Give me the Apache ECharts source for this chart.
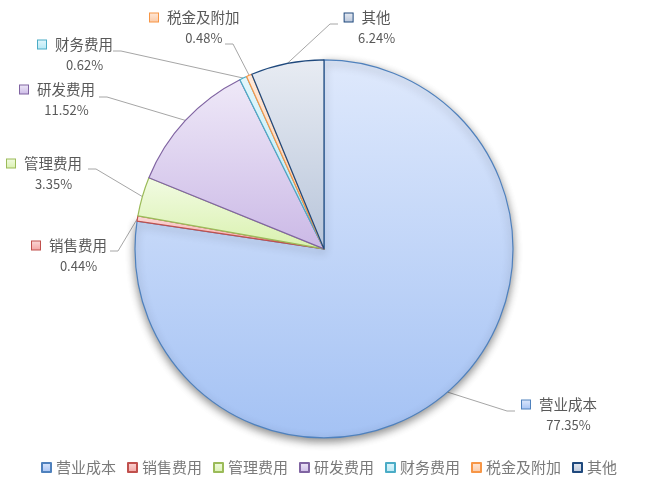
<!DOCTYPE html>
<html>
<head>
<meta charset="utf-8">
<script src="https://cdn.jsdelivr.net/npm/echarts@6/dist/echarts.min.js"></script>
<style>
html,body{margin:0;padding:0;background:#fff;}
#main{width:658px;height:490px;}
</style>
</head>
<body>
<div id="main"></div>
<script>
//成本费用构成
var categories = ['营业成本', '销售费用', '管理费用', '研发费用', '财务费用', '税金及附加', '其他'];
var shares = [77.35, 0.44, 3.35, 11.52, 0.62, 0.48, 6.24];

//颜色
var lineColors = ['#4f81bd', '#c0504d', '#9bbb59', '#8064a2', '#4bacc6', '#f79646', '#1f497d'];
var topColors = ['#dfe9fc', '#fbd9d8', '#f2fbe3', '#efe9f8', '#e3f7fc', '#fee9da', '#e8ecf3'];
var bottomColors = ['#a4c2f4', '#f3a3a1', '#d9f1ae', '#cbb9e6', '#b5e8f5', '#fcc9a4', '#b8c5da'];

//标签位置 [x, y, 引线终点x, 引线终点y]
var labelPos = [
  [522, 394, 515, 411],
  [32, 235, 110, 251],
  [7, 153, 88, 169],
  [20, 79, 99, 97],
  [38, 34, 113, 51],
  [150, 7, 225, 44],
  [340, 7, 338, 24]
];

var fontName = '"Noto Sans CJK SC", "Microsoft YaHei", sans-serif';

function grad(i){
  return new echarts.graphic.LinearGradient(0, 0, 0, 1, [
    {offset: 0, color: topColors[i]},
    {offset: 1, color: bottomColors[i]}
  ]);
}

var pieData = [];
for (var i = 0; i < categories.length; i++) {
  var st = {
    color: grad(i),
    borderColor: lineColors[i],
    borderWidth: 1.2
  };
  //最大的一块带阴影（饼图底部）
  if (i === 0) {
    st.shadowBlur = 8;
    st.shadowOffsetY = 3;
    st.shadowColor = 'rgba(0,0,0,0.45)';
  }
  pieData.push({
    name: categories[i],
    value: shares[i],
    itemStyle: st,
    label: {
      rich: {
        m: {width: 8, height: 8, backgroundColor: grad(i), borderColor: lineColors[i], borderWidth: 1, align: 'center'},
        g: {width: 9, align: 'center'},
        n: {fontSize: 14.5, color: '#595959', fontFamily: fontName, lineHeight: 21, align: 'center'},
        s: {width: 18, align: 'center'},
        p: {fontSize: 13, color: '#595959', fontFamily: fontName, lineHeight: 21, align: 'center'}
      }
    }
  });
}

var chart = echarts.init(document.getElementById('main'));
var option = {
  backgroundColor: '#ffffff',
  animation: false,
  legend: {
    data: categories,
    left: 'center',
    top: 455,
    itemWidth: 9,
    itemHeight: 9,
    itemGap: 11,
    icon: 'rect',
    textStyle: {fontSize: 15, color: '#7a7a7a', fontFamily: fontName}
  },
  series: [
    {
      name: '成本费用构成',
      type: 'pie',
      center: ['49.24%', '50.8%'],
      radius: 189,
      startAngle: 90,
      clockwise: true,
      data: pieData,
      label: {
        show: true,
        position: 'outside',
        formatter: function (p) {
          return '{m|}{g|}{n|' + p.name + '}\n{s|}{p|' + p.value.toFixed(2) + '%}';
        }
      },
      labelLine: {
        show: true,
        length: 15,
        length2: 8,
        lineStyle: {color: '#a6a6a6', width: 1}
      },
      labelLayout: function (params) {
        var lp = labelPos[params.dataIndex];
        var res = {x: lp[0], y: lp[1], align: 'left', verticalAlign: 'top'};
        var pts = params.labelLinePoints;
        if (pts && pts.length) {
          var start = pts[0];
          var elbowX = start[0] < lp[2] ? lp[2] - 8 : lp[2] + 8;
          res.labelLinePoints = [[start[0], start[1]], [elbowX, lp[3]], [lp[2], lp[3]]];
        }
        return res;
      }
    }
  ]
};
chart.setOption(option);
</script>
</body>
</html>
